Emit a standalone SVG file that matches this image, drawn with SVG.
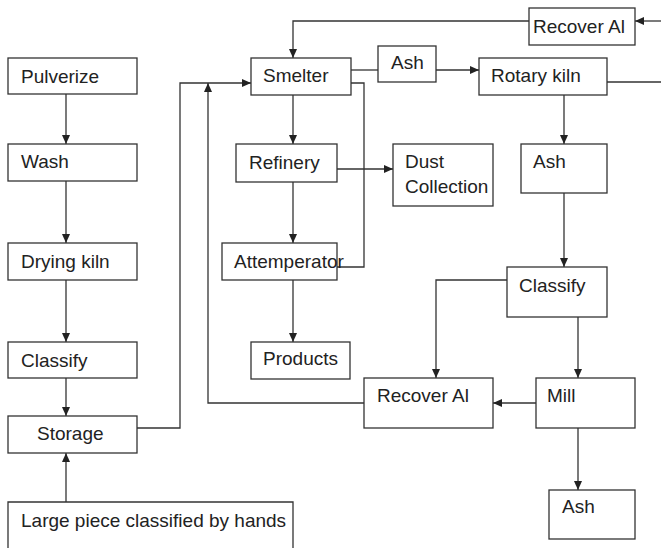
<svg xmlns="http://www.w3.org/2000/svg" width="661" height="548" viewBox="0 0 661 548">
<style>
.b{fill:#fff;stroke:#333;stroke-width:1.3}
.t{font-family:"Liberation Sans",Arial,sans-serif;font-size:19px;fill:#222}
.c{fill:none;stroke:#333;stroke-width:1.3}
</style>
<defs>
<marker id="ah" markerWidth="10" markerHeight="8" refX="9" refY="4" orient="auto" markerUnits="userSpaceOnUse">
<path d="M0,0 L9,4 L0,8 z" fill="#222"/>
</marker>
</defs>
<rect width="661" height="548" fill="#fff"/>
<g id="connectors">
<line class="c" x1="66" y1="94" x2="66" y2="144" marker-end="url(#ah)"/>
<line class="c" x1="66" y1="181" x2="66" y2="243" marker-end="url(#ah)"/>
<line class="c" x1="66" y1="280" x2="66" y2="342" marker-end="url(#ah)"/>
<line class="c" x1="66" y1="378" x2="66" y2="416" marker-end="url(#ah)"/>
<line class="c" x1="66" y1="502" x2="66" y2="453" marker-end="url(#ah)"/>
<polyline class="c" points="137,428 180,428 180,83 251,83" marker-end="url(#ah)"/>
<polyline class="c" points="364,403 208,403 208,83" marker-end="url(#ah)"/>
<line class="c" x1="661" y1="21" x2="635" y2="21" marker-end="url(#ah)"/>
<polyline class="c" points="529,21 293,21 293,58" marker-end="url(#ah)"/>
<line class="c" x1="351" y1="70" x2="378" y2="70"/>
<line class="c" x1="436" y1="70" x2="479" y2="70" marker-end="url(#ah)"/>
<polyline class="c" points="351,83 364,83 364,267 337,267"/>
<line class="c" x1="293" y1="95" x2="293" y2="144" marker-end="url(#ah)"/>
<line class="c" x1="337" y1="169" x2="393" y2="169" marker-end="url(#ah)"/>
<line class="c" x1="293" y1="182" x2="293" y2="243" marker-end="url(#ah)"/>
<line class="c" x1="293" y1="280" x2="293" y2="342" marker-end="url(#ah)"/>
<line class="c" x1="607" y1="82" x2="661" y2="82"/>
<line class="c" x1="564" y1="95" x2="564" y2="144" marker-end="url(#ah)"/>
<line class="c" x1="564" y1="193" x2="564" y2="267" marker-end="url(#ah)"/>
<polyline class="c" points="507,280 436,280 436,378" marker-end="url(#ah)"/>
<line class="c" x1="578" y1="317" x2="578" y2="378" marker-end="url(#ah)"/>
<line class="c" x1="536" y1="403" x2="493" y2="403" marker-end="url(#ah)"/>
<line class="c" x1="578" y1="428" x2="578" y2="490" marker-end="url(#ah)"/>
</g>
<g id="pulverize"><rect class="b" x="8" y="58" width="129" height="36"/><text class="t" x="21" y="83">Pulverize</text></g>
<g id="wash"><rect class="b" x="8" y="144" width="129" height="37"/><text class="t" x="21" y="168">Wash</text></g>
<g id="drying-kiln"><rect class="b" x="8" y="243" width="129" height="37"/><text class="t" x="21" y="268">Drying kiln</text></g>
<g id="classify-left"><rect class="b" x="8" y="342" width="129" height="36"/><text class="t" x="21" y="367">Classify</text></g>
<g id="storage"><rect class="b" x="8" y="416" width="129" height="37"/><text class="t" x="37" y="440">Storage</text></g>
<g id="large-piece"><path class="c" d="M8,548 V502 H293 V548"/><text class="t" x="21" y="527">Large piece classified by hands</text></g>
<g id="smelter"><rect class="b" x="251" y="58" width="100" height="37"/><text class="t" x="263" y="82">Smelter</text></g>
<g id="ash-top"><rect class="b" x="378" y="46" width="58" height="36"/><text class="t" x="391" y="69">Ash</text></g>
<g id="recover-al-top"><rect class="b" x="529" y="8" width="106" height="37"/><text class="t" x="533" y="33">Recover Al</text></g>
<g id="rotary-kiln"><rect class="b" x="479" y="58" width="128" height="37"/><text class="t" x="491" y="82">Rotary kiln</text></g>
<g id="refinery"><rect class="b" x="236" y="144" width="101" height="38"/><text class="t" x="249" y="169">Refinery</text></g>
<g id="dust-collection"><rect class="b" x="393" y="144" width="100" height="62"/><text class="t" x="405" y="168">Dust</text><text class="t" x="405" y="193">Collection</text></g>
<g id="attemperator"><rect class="b" x="222" y="243" width="115" height="37"/><text class="t" x="234" y="268">Attemperator</text></g>
<g id="products"><rect class="b" x="251" y="342" width="99" height="37"/><text class="t" x="263" y="365">Products</text></g>
<g id="ash-right"><rect class="b" x="521" y="144" width="86" height="49"/><text class="t" x="533" y="168">Ash</text></g>
<g id="classify-right"><rect class="b" x="507" y="267" width="100" height="50"/><text class="t" x="519" y="292">Classify</text></g>
<g id="recover-al-low"><rect class="b" x="364" y="378" width="129" height="50"/><text class="t" x="377" y="402">Recover Al</text></g>
<g id="mill"><rect class="b" x="536" y="378" width="99" height="50"/><text class="t" x="547" y="402">Mill</text></g>
<g id="ash-bottom"><rect class="b" x="549" y="490" width="86" height="49"/><text class="t" x="562" y="513">Ash</text></g>
</svg>
